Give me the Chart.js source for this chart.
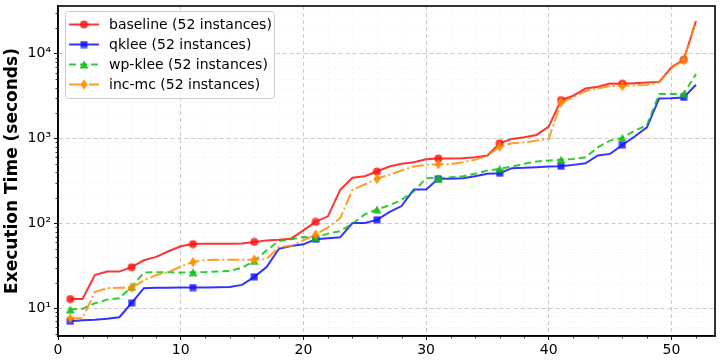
<!DOCTYPE html>
<html>
<head>
<meta charset="utf-8">
<script src="https://cdn.jsdelivr.net/npm/chart.js@4.4.0/dist/chart.umd.min.js"></script>
<style>
  html, body { margin: 0; padding: 0; background: #fff; }
</style>
</head>
<body>
<canvas id="runtimeChart" width="721" height="361"></canvas>
<script>
// instance index (sorted by runtime)
const instances = [1, 2, 3, 4, 5, 6, 7, 8, 9, 10, 11, 12, 13, 14, 15, 16, 17, 18, 19, 20, 21, 22, 23, 24, 25, 26,
    27, 28, 29, 30, 31, 32, 33, 34, 35, 36, 37, 38, 39, 40, 41, 42, 43, 44, 45, 46, 47, 48, 49, 50, 51, 52];

const baselineTimes = [12.8, 12.8, 24.6, 27, 27, 30.4, 36.7, 40.2, 46.9, 53.6, 57, 57.3, 57.4, 57.5, 58, 60.3, 63, 64, 66, 82.7,
    104, 121, 249, 345, 360, 409, 469, 504, 526, 571, 582, 582, 585, 603, 632, 881, 992, 1036, 1105, 1383,
    2851, 3206, 3908, 4092, 4479, 4450, 4510, 4590, 4670, 6925, 8530, 24400];

const qkleeTimes = [7.0, 7.2, 7.3, 7.5, 7.8, 11.5, 17.2, 17.4, 17.4, 17.5, 17.5, 17.5, 17.6, 17.8, 18.8, 23.4, 30.6, 50, 54, 56.6,
    65, 66.6, 68.5, 101, 101, 110, 136, 160, 251, 251, 336, 336, 340, 360, 384, 390, 448, 452, 460, 469,
    472, 490, 512, 632, 660, 840, 1060, 1358, 2979, 2990, 3060, 4320];

const wpKleeTimes = [9.65, 9.8, 11.4, 12.6, 13.1, 17.8, 26.3, 26.5, 26.5, 26.3, 26.5, 26.6, 27, 27.5, 30, 36, 48, 62, 65, 69,
    68, 75.7, 81, 99, 127.6, 146, 163, 190, 238, 341, 343, 350, 360, 384, 420, 440, 469, 504, 536, 551,
    565, 575, 603, 790, 947, 1020, 1240, 1440, 3360, 3360, 3370, 5770];

const incMcTimes = [7.6, 7.6, 15.5, 17.2, 17.4, 17.4, 21.3, 24.5, 26.7, 30.9, 35, 37, 37.3, 37.3, 37.3, 37.3, 38, 52.6, 54, 63,
    74, 89, 115, 249, 288, 336, 374, 420, 469, 490, 498, 500, 526, 562, 632, 802, 881, 904, 947, 992,
    2673, 3063, 3640, 3908, 4170, 4170, 4260, 4300, 4590, 6800, 8400, 24400];

const seriesNames = ["baseline (52 instances)", "qklee (52 instances)", "wp-klee (52 instances)", "inc-mc (52 instances)"];
const xTicks = [0, 10, 20, 30, 40, 50];
const yTicks = [10, 100, 1000, 10000];

const FONT = "'DejaVu Sans', sans-serif";
const SUP = { "1": "\u00b9", "2": "\u00b2", "3": "\u00b3", "4": "\u2074" };

// marker images (matplotlib-like)
function makeMarker(kind, color) {
    const c = document.createElement("canvas");
    const g = c.getContext("2d");
    if (kind === "circle") {
        c.width = 9; c.height = 9;
        g.fillStyle = color;
        g.beginPath(); g.arc(4.5, 4.5, 4, 0, Math.PI * 2); g.fill();
    } else if (kind === "square") {
        c.width = 8; c.height = 8;
        g.fillStyle = color;
        g.fillRect(0.5, 0.5, 7, 7);
    } else if (kind === "triangle") {
        c.width = 10; c.height = 9;
        g.fillStyle = color;
        g.beginPath(); g.moveTo(5, 0.5); g.lineTo(9.5, 8.5); g.lineTo(0.5, 8.5); g.closePath(); g.fill();
    } else {
        c.width = 8; c.height = 11;
        g.fillStyle = color;
        g.beginPath(); g.moveTo(4, 0.3); g.lineTo(7.6, 5.5); g.lineTo(4, 10.7); g.lineTo(0.4, 5.5); g.closePath(); g.fill();
    }
    return c;
}

const colors = ["rgba(255,0,0,0.8)", "rgba(0,0,255,0.8)", "rgba(0,190,0,0.8)", "rgba(255,140,0,0.85)"];
const dashes = [[], [], [7, 4], [12, 3, 2, 3]];
const markers = [
    makeMarker("circle", "rgba(255,20,20,0.85)"),
    makeMarker("square", "rgba(20,20,255,0.85)"),
    makeMarker("triangle", "rgba(20,190,20,0.9)"),
    makeMarker("diamond", "rgba(255,140,0,0.9)")
];
const seriesData = [baselineTimes, qkleeTimes, wpKleeTimes, incMcTimes];

// markers every 5 instances
const everyFifth = (ctx) => (ctx.dataIndex % 5 === 0 ? 4 : 0);

const datasets = seriesData.map((vals, i) => ({
    label: seriesNames[i],
    data: vals,
    borderColor: colors[i],
    backgroundColor: colors[i],
    borderWidth: 2,
    borderDash: dashes[i],
    pointStyle: markers[i],
    pointRadius: everyFifth,
    pointHoverRadius: everyFifth,
    tension: 0,
    fill: false,
    order: 4 - i
}));

// minor grid + minor ticks
const minorGrid = {
    id: "minorGrid",
    beforeDatasetsDraw(chart) {
        const { ctx, chartArea: a, scales: { x, y } } = chart;
        ctx.save();
        ctx.lineWidth = 0.6;
        ctx.strokeStyle = "rgba(0,0,0,0.09)";
        ctx.setLineDash([1, 2]);
        const xs = [];
        for (let v = 2; v < x.max; v += 2) if (v % 10 !== 0) xs.push(v);
        const ys = [];
        [1, 10, 100, 1000, 10000].forEach(d => {
            for (let m = 2; m <= 9; m++) {
                const v = m * d;
                if (v > y.min && v < y.max) ys.push(v);
            }
        });
        xs.forEach(v => {
            const px = Math.round(x.getPixelForValue(v)) + 0.5;
            ctx.beginPath(); ctx.moveTo(px, a.top); ctx.lineTo(px, a.bottom); ctx.stroke();
        });
        ys.forEach(v => {
            const py = Math.round(y.getPixelForValue(v)) + 0.5;
            ctx.beginPath(); ctx.moveTo(a.left, py); ctx.lineTo(a.right, py); ctx.stroke();
        });
        // minor tick marks
        ctx.setLineDash([]);
        ctx.strokeStyle = "#000";
        ctx.lineWidth = 0.8;
        xs.forEach(v => {
            const px = Math.round(x.getPixelForValue(v)) + 0.5;
            ctx.beginPath(); ctx.moveTo(px, a.bottom); ctx.lineTo(px, a.bottom + 2.5); ctx.stroke();
        });
        ys.forEach(v => {
            const py = Math.round(y.getPixelForValue(v)) + 0.5;
            ctx.beginPath(); ctx.moveTo(a.left, py); ctx.lineTo(a.left - 2.5, py); ctx.stroke();
        });
        ctx.restore();
    }
};

// frame + legend box
const frameAndLegend = {
    id: "frameAndLegend",
    afterDatasetsDraw(chart) {
        const { ctx, chartArea: a } = chart;
        ctx.save();
        ctx.strokeStyle = "#000";
        ctx.lineWidth = 1.6;
        ctx.strokeRect(a.left, a.top, a.right - a.left, a.bottom - a.top);

        // legend
        const bx = a.left + 7, by = a.top + 5, bw = 209, bh = 87;
        ctx.beginPath();
        if (ctx.roundRect) ctx.roundRect(bx + 0.5, by + 0.5, bw, bh, 3);
        else ctx.rect(bx + 0.5, by + 0.5, bw, bh);
        ctx.fillStyle = "rgba(255,255,255,0.85)";
        ctx.fill();
        ctx.lineWidth = 1;
        ctx.strokeStyle = "#cccccc";
        ctx.stroke();

        ctx.font = "14px " + FONT;
        ctx.textBaseline = "middle";
        ctx.fillStyle = "#000";
        seriesNames.forEach((name, i) => {
            const ry = by + 13.5 + i * 20;
            ctx.save();
            ctx.strokeStyle = colors[i];
            ctx.lineWidth = 2;
            ctx.setLineDash(dashes[i]);
            ctx.beginPath(); ctx.moveTo(bx + 4, ry); ctx.lineTo(bx + 34, ry); ctx.stroke();
            ctx.restore();
            const m = markers[i];
            ctx.drawImage(m, bx + 19 - m.width / 2, ry - m.height / 2);
            ctx.fillText(name, bx + 44, ry + 1);
        });
        ctx.restore();
    }
};

new Chart(document.getElementById("runtimeChart"), {
    type: "line",
    data: { labels: instances, datasets: datasets },
    options: {
        responsive: false,
        animation: false,
        devicePixelRatio: 1,
        layout: { padding: { top: 5, right: 3, left: 0, bottom: 0 } },
        plugins: { legend: { display: false }, tooltip: { enabled: false } },
        scales: {
            x: {
                type: "linear",
                min: 0,
                max: 53.55,
                afterBuildTicks: (scale) => { scale.ticks = xTicks.map(v => ({ value: v })); },
                afterFit: (scale) => { scale.height = 25; scale.paddingLeft = 0; scale.paddingRight = 0; },
                ticks: { color: "#000", font: { family: FONT, size: 14 }, padding: 2, maxRotation: 0, autoSkip: false },
                grid: { color: "#c4c4c4", lineWidth: 0.9, tickColor: "#000", tickLength: 4, tickWidth: 1 },
                border: { display: true, color: "#000", width: 1.6, dash: [4, 3] }
            },
            y: {
                type: "logarithmic",
                min: 4.69,
                max: 36700,
                afterBuildTicks: (scale) => { scale.ticks = yTicks.map(v => ({ value: v })); },
                afterFit: (scale) => { scale.width = 58; scale.paddingTop = 0; scale.paddingBottom = 0; },
                ticks: {
                    color: "#000",
                    font: { family: FONT, size: 14 },
                    padding: 3,
                    autoSkip: false,
                    callback: (v) => "10" + SUP[String(Math.round(Math.log10(v)))]
                },
                grid: { color: "#c4c4c4", lineWidth: 0.9, tickColor: "#000", tickLength: 4, tickWidth: 1 },
                border: { display: true, color: "#000", width: 1.6, dash: [4, 3] },
                title: {
                    display: true,
                    text: "Execution Time (seconds)",
                    color: "#000",
                    font: { family: FONT, size: 17, weight: "bold" },
                    padding: { top: 2, bottom: 0 }
                }
            }
        }
    },
    plugins: [minorGrid, frameAndLegend]
});
</script>
</body>
</html>
